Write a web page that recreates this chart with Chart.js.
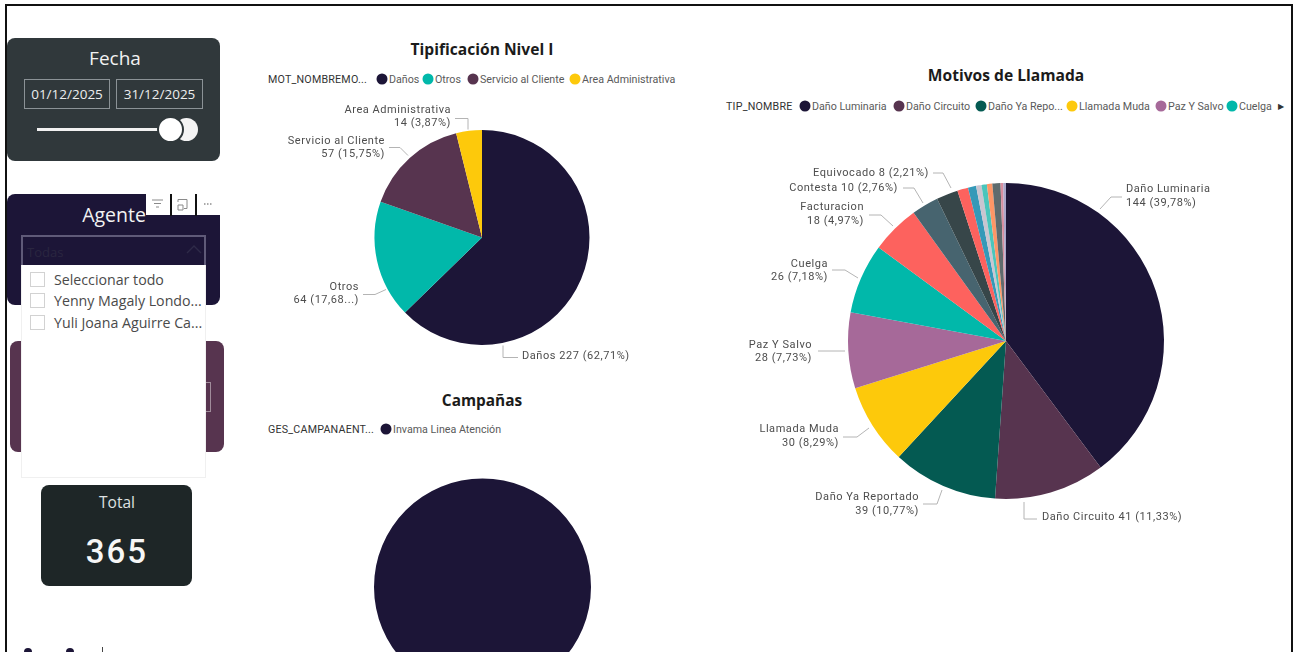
<!DOCTYPE html>
<html lang="es">
<head>
<meta charset="utf-8">
<title>Tablero de llamadas</title>
<script src="https://cdn.jsdelivr.net/npm/chart.js@4/dist/chart.umd.min.js"></script>
<style>
  html, body { margin: 0; padding: 0; background: #fff; }
  #page { position: relative; width: 1294px; height: 652px; overflow: hidden; background: #fff;
          font-family: "Open Sans", "Noto Sans", sans-serif; }
  #frame { position: absolute; left: 5px; top: 4px; width: 1288px; height: 660px; border: 2px solid #111;
           border-bottom: 0; box-sizing: border-box; pointer-events: none; }
  .abs { position: absolute; white-space: nowrap; }
  .panel { position: absolute; border-radius: 8px; }
  canvas { position: absolute; }
  .title { position: absolute; transform: translate(-50%, -50%); font-weight: 700; color: #1b1b1b; white-space: nowrap; }
  .legend-name { position: absolute; transform: translateY(-50%); font: 400 10.7px Roboto, sans-serif; color: #333; white-space: nowrap; letter-spacing: .2px; }
  .legend-text { position: absolute; transform: translateY(-50%); font: 400 10.7px Roboto, sans-serif; color: #5a5a5a; white-space: nowrap; }
  .dot { position: absolute; width: 11px; height: 11px; border-radius: 50%; transform: translate(-50%, -50%); }
  .datebox { position: absolute; top: 79px; height: 30px; box-sizing: border-box; border: 1px solid #8b9296;
             color: #eceeee; font-size: 13.5px; line-height: 28px; text-align: center; }
  .check { position: absolute; left: 30px; width: 15px; height: 15px; box-sizing: border-box; border: 1px solid #d2d2d2; background: #fff; }
  .item { position: absolute; left: 54px; transform: translateY(-50%); font-size: 14.2px; color: #4a4a4a; white-space: nowrap; }
</style>
</head>
<body>
<div id="page">
  <!-- Date slicer -->
  <div class="panel" style="left:7px;top:38px;width:213px;height:123px;background:#30383b"></div>
  <div class="abs" style="left:115px;top:58px;transform:translate(-50%,-50%);color:#f2f2f2;font-size:19px">Fecha</div>
  <div class="datebox" style="left:24px;width:86px">01/12/2025</div>
  <div class="datebox" style="left:116px;width:87px">31/12/2025</div>
  <div class="abs" style="left:37px;top:128px;width:130px;height:3px;background:#f1f1f1"></div>
  <div class="abs" style="left:175px;top:118px;width:23px;height:23px;border-radius:50%;background:#f4f4f4"></div>
  <div class="abs" style="left:157px;top:116px;width:23px;height:23px;border-radius:50%;background:#fff;border:2px solid #30383b"></div>

  <!-- Agent slicer -->
  <div class="panel" style="left:7px;top:194px;width:213px;height:111px;background:#1c1537"></div>
  <div class="abs" style="left:114px;top:214px;transform:translate(-50%,-50%);color:#f2f2f2;font-size:19.5px">Agente</div>

  <!-- Third slicer, mostly behind the open dropdown -->
  <div class="panel" style="left:10px;top:341px;width:214px;height:111px;background:#57344f"></div>
  <div class="abs" style="left:200px;top:382px;width:11px;height:30px;box-sizing:border-box;border:1px solid #a08c9b;border-left:0"></div>

  <!-- Visual header over the agent slicer -->
  <div class="abs" style="left:146px;top:193px;width:75px;height:22px;background:#fff"></div>
  <div class="abs" style="left:170px;top:194px;width:2px;height:22px;background:#111"></div>
  <div class="abs" style="left:195px;top:194px;width:2px;height:22px;background:#111"></div>
  <svg class="abs" style="left:150px;top:197px" width="66" height="16" fill="none" stroke="#8a8a8a" stroke-width="1">
    <path d="M2 3h11M4 6.500h7M6 10h3"/>
    <path d="M28 5V2.500h9v9h-3M28 8h5v5h-5z"/>
    <path d="M54 7h1.500M57 7h1.500M60 7h1.500" stroke="#555"/>
  </svg>

  <!-- Dropdown -->
  <div class="abs" style="left:21px;top:235px;width:185px;height:31px;box-sizing:border-box;border:2px solid #5f5a78;border-bottom:0;background:#1c1537"></div>
  <div class="abs" style="left:27px;top:252px;transform:translateY(-50%);font-size:13px;color:#2a2640">Todas</div>
  <svg class="abs" style="left:186px;top:244px" width="16" height="12" fill="none" stroke="#2e2a48" stroke-width="1.400"><path d="M1 9l7-7 7 7"/></svg>
  <div class="abs" style="left:21px;top:265px;width:185px;height:213px;box-sizing:border-box;background:#fff;border:1px solid #f0f0f0;border-top:0"></div>
  <div class="check" style="top:272px"></div><div class="item" style="top:279px">Seleccionar todo</div>
  <div class="check" style="top:293px"></div><div class="item" style="top:300px">Yenny Magaly Londo...</div>
  <div class="check" style="top:315px"></div><div class="item" style="top:322px">Yuli Joana Aguirre Ca...</div>

  <!-- Total card -->
  <div class="panel" style="left:41px;top:485px;width:151px;height:101px;background:#1e2627"></div>
  <div class="abs" style="left:117px;top:502px;transform:translate(-50%,-50%);color:#dfe2e2;font-size:15.5px">Total</div>
  <div class="abs" style="left:117px;top:551px;transform:translate(-50%,-50%);color:#f6f6f6;font:500 33px Roboto,sans-serif;letter-spacing:2px">365</div>

  <!-- Next row of controls, cut by the bottom of the page -->
  <div class="abs" style="left:24px;top:648px;width:8px;height:8px;border-radius:50%;background:#1c1537"></div>
  <div class="abs" style="left:66px;top:648px;width:8px;height:8px;border-radius:50%;background:#1c1537"></div>
  <div class="abs" style="left:102px;top:647px;width:1px;height:5px;background:#444"></div>

  <canvas id="pieNivel" style="left:265px;top:95px" width="430" height="275"></canvas>
  <canvas id="pieCampana" style="left:265px;top:465px" width="430" height="245"></canvas>
  <canvas id="pieMotivos" style="left:720px;top:165px" width="570" height="365"></canvas>

  <div id="overlay"></div>
  <div id="frame"></div>
</div>

<script>
// Tipificación Nivel I
const nivelCategories = ["Daños", "Otros", "Servicio al Cliente", "Area Administrativa"];
const nivelValues = [227, 64, 57, 14];
const nivelPercents = ["62,71%", "17,68...", "15,75%", "3,87%"];
const nivelColors = ["#1c1537", "#01b8aa", "#57344f", "#fdc90b"];

// Campañas
const campanaCategories = ["Invama Linea Atención"];
const campanaValues = [362];
const campanaColors = ["#1c1537"];

// Motivos de Llamada
const motivoCategories = ["Daño Luminaria", "Daño Circuito", "Daño Ya Reportado", "Llamada Muda", "Paz Y Salvo",
  "Cuelga", "Facturacion", "Contesta", "Equivocado", "Otro 1", "Otro 2", "Otro 3", "Otro 4", "Otro 5", "Otro 6", "Otro 7", "Otro 8"];
const motivoValues = [144, 41, 39, 30, 28, 26, 18, 10, 8, 4, 3, 2, 2, 2, 3, 1, 1];
const motivoPercents = ["39,78%", "11,33%", "10,77%", "8,29%", "7,73%", "7,18%", "4,97%", "2,76%", "2,21%"];
const motivoColors = ["#1c1537", "#57344f", "#045a52", "#fdc90b", "#a66999", "#01b8aa", "#fd625e", "#47646f", "#374649",
  "#fd625e", "#3599b8", "#c9c5d0", "#4ac5bb", "#fe9666", "#5f6b6d", "#d88fa0", "#a9a6c9"];

// Legend strips above each pie
const legendStrips = [
  { name: "MOT_NOMBREMO...", x: 268, y: 79, items: [
    ["Daños", 382, nivelColors[0]], ["Otros", 428, nivelColors[1]],
    ["Servicio al Cliente", 473, nivelColors[2]], ["Area Administrativa", 575, nivelColors[3]]] },
  { name: "GES_CAMPANAENT...", x: 268, y: 429, items: [["Invama Linea Atención", 386, campanaColors[0]]] },
  { name: "TIP_NOMBRE", x: 726, y: 106, items: [
    ["Daño Luminaria", 805, motivoColors[0]], ["Daño Circuito", 899, motivoColors[1]],
    ["Daño Ya Repo...", 981, motivoColors[2]], ["Llamada Muda", 1072, motivoColors[3]],
    ["Paz Y Salvo", 1161, motivoColors[4]], ["Cuelga", 1232, motivoColors[5]]] }
];
const chartTitles = [
  ["Tipificación Nivel I", 482, 49, 15.6],
  ["Campañas", 482, 400, 15.4],
  ["Motivos de Llamada", 1006, 75, 15.6]
];

// Leader-line routing for the pie callouts, relative to the pie centre.
// align: text side; x, y: text anchor per line; path: leader polyline.
const nivelCallouts = [
  { lines: () => [`${nivelCategories[0]} ${nivelValues[0]} (${nivelPercents[0]})`], align: "left", x: 40, y: [119], path: [[21, 108], [21, 120], [36, 120]] },
  { lines: () => [nivelCategories[1], `${nivelValues[1]} (${nivelPercents[1]})`], align: "right", x: -123, y: [50, 63], path: [[-96, 52], [-107, 57], [-119, 57]] },
  { lines: () => [nivelCategories[2], `${nivelValues[2]} (${nivelPercents[2]})`], align: "right", x: -97, y: [-96, -83], path: [[-74, -82], [-82, -90], [-93, -90]] },
  { lines: () => [nivelCategories[3], `${nivelValues[3]} (${nivelPercents[3]})`], align: "right", x: -31, y: [-127, -114], path: [[-14, -108], [-14, -119], [-27, -119]] }
];
const two = i => [motivoCategories[i], `${motivoValues[i]} (${motivoPercents[i]})`];
const one = i => [`${motivoCategories[i]} ${motivoValues[i]} (${motivoPercents[i]})`];
const motivoCallouts = [
  { lines: () => two(0), align: "left", x: 120, y: [-152, -138], path: [[94, -132], [105, -144], [116, -144]] },
  { lines: () => one(1), align: "left", x: 36, y: [176], path: [[18, 161], [18, 178], [31, 178]] },
  { lines: () => two(2), align: "right", x: -87, y: [156, 170], path: [[-64, 149], [-69, 163], [-83, 163]] },
  { lines: () => two(3), align: "right", x: -167, y: [88, 102], path: [[-137, 87], [-149, 96], [-163, 96]] },
  { lines: () => two(4), align: "right", x: -194, y: [4, 17], path: [[-161, 10], [-188, 10]] },
  { lines: () => two(5), align: "right", x: -178, y: [-77, -64], path: [[-148, -63], [-161, -71], [-174, -71]] },
  { lines: () => two(6), align: "right", x: -142, y: [-134, -120], path: [[-113, -115], [-125, -126], [-137, -126]] },
  { lines: () => one(7), align: "right", x: -108, y: [-153], path: [[-83, -138], [-92, -153], [-103, -153]] },
  { lines: () => one(8), align: "right", x: -77, y: [-168], path: [[-55, -153], [-63, -168], [-73, -168]] }
];

// Titles and legends are laid out as page text
const overlay = document.getElementById("overlay");
function addNode(cls, text, css) {
  const n = document.createElement("div");
  n.className = cls;
  n.textContent = text;
  Object.assign(n.style, css);
  overlay.appendChild(n);
}
chartTitles.forEach(([t, x, y, size]) => addNode("title", t, { left: x + "px", top: y + "px", fontSize: size + "px" }));
legendStrips.forEach(s => {
  addNode("legend-name", s.name, { left: s.x + "px", top: s.y + "px" });
  s.items.forEach(([label, x, color]) => {
    addNode("dot", "", { left: x + "px", top: s.y + "px", background: color });
    addNode("legend-text", label, { left: x + 7 + "px", top: s.y + "px" });
  });
});
addNode("legend-text", "▶", { left: "1278px", top: "106px", fontSize: "8px", color: "#333" });

// Draws the callouts: leader polylines and their right- or left-aligned text
const calloutPlugin = {
  id: "callouts",
  afterDatasetsDraw(chart, args, opts) {
    const list = opts.items || [];
    if (!list.length) return;
    const arc = chart.getDatasetMeta(0).data[0];
    const { x: cx, y: cy } = arc.getProps(["x", "y"], true);
    const ctx = chart.ctx;
    ctx.save();
    list.forEach(c => {
      ctx.beginPath();
      c.path.forEach(([dx, dy], i) => i ? ctx.lineTo(cx + dx, cy + dy) : ctx.moveTo(cx + dx, cy + dy));
      ctx.strokeStyle = "#b4b4b4";
      ctx.lineWidth = 1;
      ctx.stroke();
      ctx.font = "400 11px Roboto, sans-serif";
      ctx.letterSpacing = "0.55px";
      ctx.fillStyle = "#4d4d4d";
      ctx.textAlign = c.align;
      ctx.textBaseline = "middle";
      c.lines().forEach((t, i) => ctx.fillText(t, cx + c.x, cy + c.y[i]));
    });
    ctx.restore();
  }
};

// Places a pie with a fixed radius and centre inside its canvas
function pie(id, labels, values, colors, cx, cy, r, callouts) {
  const el = document.getElementById(id);
  const left = parseFloat(el.style.left), top = parseFloat(el.style.top);
  const lx = cx - left, ly = cy - top;
  new Chart(el, {
    type: "pie",
    data: { labels, datasets: [{ data: values, backgroundColor: colors, borderWidth: 0 }] },
    options: {
      responsive: false,
      animation: false,
      radius: r,
      layout: { padding: { left: lx - r, top: ly - r, right: el.width - lx - r, bottom: el.height - ly - r } },
      plugins: { legend: { display: false }, tooltip: { enabled: false }, callouts: { items: callouts } }
    },
    plugins: [calloutPlugin]
  });
}

pie("pieNivel", nivelCategories, nivelValues, nivelColors, 482, 237.5, 107.5, nivelCallouts);
pie("pieCampana", campanaCategories, campanaValues, campanaColors, 482.5, 587, 108.5, []);
pie("pieMotivos", motivoCategories, motivoValues, motivoColors, 1006, 341, 158, motivoCallouts);
</script>
</body>
</html>
